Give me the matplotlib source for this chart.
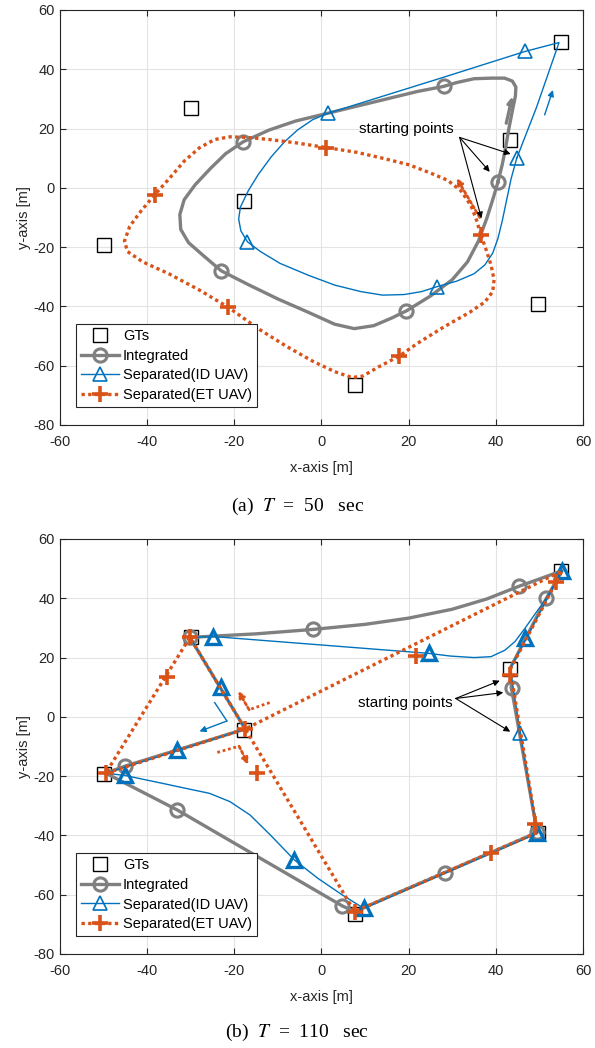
import matplotlib
matplotlib.use("Agg")
from matplotlib import pyplot as plt
from matplotlib.lines import Line2D

plt.rcParams["font.family"] = ["Liberation Sans", "DejaVu Sans"]
plt.rcParams["mathtext.fontset"] = "stix"
plt.rcParams["axes.unicode_minus"] = False

GRAY = "#808080"
BLUE = "#0072BD"
ORANGE = "#D95319"
DOTS = (0, (1.0, 1.0))

# ground terminals (same in both panels)
gt_x = [55, -30, 43.3, -17.8, -49.8, 49.7, 7.6]
gt_y = [49.2, 27, 16.2, -4.4, -19.3, -39.3, -66.6]

# ---------- (a) T = 50 sec ----------
a_int_x = [40.5, 41.5, 42.3, 43.0, 43.8, 44.5, 44.6, 43.8, 42, 39, 35, 31, 28, 22, 15, 8, 1, -6, -12, -18,
           -22, -25.5, -29, -31.5, -32.5, -32.3, -30.5, -27, -23, -17, -10, -3, 3, 7.5, 12, 16, 19.5, 25, 30,
           33.5, 36, 38, 39.5, 40.5]
a_int_y = [2, 8, 14, 20, 26, 31, 34, 36, 37, 37, 36.8, 35.5, 34.2, 32.5, 30, 27.5, 25, 22.5, 19.5, 15.5,
           11.5, 6.5, 1, -4, -9, -14, -18.5, -23, -28, -32.5, -37.5, -42, -46, -47.5, -46.5, -44, -41.5, -36.5, -31,
           -25, -18, -10, -3, 2]
a_int_mx = [40.5, 28, -18, -23, 19.5]
a_int_my = [2, 34.2, 15.5, -28, -41.5]

a_id_x = [44.8, 49.3, 54.5, 46.7, 27.8, 1.4, -2, -5.5, -8.5, -11.5, -14.5, -16.8, -18.6, -19, -18.5, -17,
          -14, -9.5, -3, 3, 9, 14, 19, 23, 26.6, 31, 35, 37.5, 39.3, 40.5, 41.5, 42.5, 43.5, 44.8]
a_id_y = [10, 27, 49, 46, 37.2, 25.1, 23, 19.5, 15.5, 10.5, 4.5, -1, -6.5, -10.5, -14.5, -18.2,
          -21.5, -25.5, -29.5, -32.8, -35, -36.2, -36, -35, -33.3, -31.5, -29, -26, -22, -17, -11, -4, 3, 10]
a_id_mx = [44.8, 46.7, 1.4, -17, 26.6]
a_id_my = [10, 46, 25.1, -18.2, -33.3]

a_et_x = [36.6, 37.8, 38.9, 39.6, 39.3, 37.5, 34, 28, 22, 17.9, 13, 9.5, 7, 3, -2, -8, -14, -21.4, -28,
          -35, -41, -44.5, -45.2, -44, -41.5, -38.3, -35, -31.5, -28, -24.5, -21, -17, -12, -6, 1, 8, 14, 20,
          25, 29, 32, 34.3, 35.6, 36.6]
a_et_y = [-16, -21, -26, -31, -35, -38.5, -42, -47, -52.5, -56.7, -60.5, -63.5, -64, -62, -58.5, -53.5, -48,
          -40.3, -34.5, -29, -25, -21.5, -18, -13, -8, -2.4, 3, 9, 13.5, 16.3, 17.2, 17, 16.3, 15.2, 13.6, 12,
          10, 7.8, 5, 2.5, -1, -6, -11, -16]
a_et_mx = [36.6, 17.9, -21.4, -38.3, 1]
a_et_my = [-16, -56.7, -40.3, -2.4, 13.6]

# ---------- (b) T = 110 sec ----------
b_int_x = [43.6, 49.5, 7.6, 4.8, -33.1, -49.5, -45, -17.5, -30.2, -15, -1.9, 10, 20, 30, 38, 45.4, 50,
           55.2, 51.6, 43.3, 43.6]
b_int_y = [9.6, -39, -65.7, -63.8, -31.4, -19, -16.6, -4.1, 26.8, 28, 29.5, 31.2, 33.3, 36.3, 39.8, 44.1,
           46.5, 49.3, 40, 16.4, 9.6]
b_int_mx = [43.6, 49.5, 28.3, 4.8, -33.1, -45, -30.2, -1.9, 45.4, 51.6]
b_int_my = [9.6, -39, -52.8, -63.8, -31.4, -16.6, 26.8, 29.5, 44.1, 40]

b_id_x = [45.6, 49.5, 9.7, 4.7, -0.8, -6.2, -11.7, -16.4, -21, -25.7, -31.2, -36.6, -42.1, -45, -49.5,
          -17.5, -30.2, -24.9, 24.7, 29.6, 35, 38.9, 42.1, 44.4, 46.7, 49.1, 51.6, 55.2, 43.3, 45.6]
b_id_y = [-5.6, -39.3, -64.6, -60, -54.5, -48.3, -39.9, -33.1, -28.6, -25.8, -24.1, -22.4, -20.7, -19.8,
          -19, -4.1, 26.8, 27.1, 21.4, 20.5, 20, 20.3, 22.5, 25.4, 29.9, 34.9, 40, 49.3, 16.4, -5.6]
b_id_mx = [55.2, 46.7, 24.7, -24.9, -23, -33.1, -45, -6.2, 9.7, 49.5]
b_id_my = [49.3, 26.5, 21.4, 27.1, 10.2, -11.2, -19.6, -48.3, -64.6, -39.3]
b_id_start = (45.6, -5.6)

b_et_x = [43.3, 55.2, -17.5, -30.2, -49.5, -17.5, 7.6, 49.5, 43.3]
b_et_y = [16, 49.3, -4.1, 26.8, -19, -4.1, -65.7, -39, 16]
b_et_mx = [43.3, 53.8, 21.6, -30.2, -35.5, -49.5, -17.5, -14.7, 7.6, 38.9, 48.9]
b_et_my = [14, 45.6, 20.6, 26.8, 13.6, -19, -4.1, -19.1, -65.7, -46, -36.3]

labels = ["GTs", "Integrated", "Separated(ID UAV)", "Separated(ET UAV)"]


def base_axes(ax):
    ax.set_xlim(-60, 60)
    ax.set_ylim(-80, 60)
    ax.set_xticks(range(-60, 61, 20))
    ax.set_yticks(range(-80, 61, 20))
    ax.grid(True, color="#e3e3e3", lw=0.8)
    ax.set_axisbelow(True)
    ax.tick_params(direction="in", top=True, right=True, length=4, labelsize=10.5, colors="#262626")
    ax.tick_params(axis="x", pad=7)
    for s in ax.spines.values():
        s.set_color("#262626")
        s.set_linewidth(0.8)
    ax.set_xlabel("x-axis [m]", fontsize=10.5, color="#262626", labelpad=9)
    ax.set_ylabel("y-axis [m]", fontsize=10.5, color="#262626", labelpad=2)


def draw_paths(ax, ix, iy, imx, imy, dx, dy, dmx, dmy, ex, ey, emx, emy, tri_w):
    ax.plot(gt_x, gt_y, ls="none", marker="s", ms=10, mfc="none", mec="black", mew=1, zorder=2)
    ax.plot(ix, iy, color=GRAY, lw=2.4, zorder=3, solid_joinstyle="round")
    ax.plot(imx, imy, ls="none", marker="o", ms=9.5, mfc="none", mec=GRAY, mew=2.2, zorder=3)
    ax.plot(dx, dy, color=BLUE, lw=1.0, zorder=4)
    ax.plot(dmx, dmy, ls="none", marker="^", ms=10, mfc="none", mec=BLUE, mew=tri_w, zorder=4)
    ax.plot(ex, ey, color=ORANGE, lw=2.4, ls=DOTS, zorder=5)
    ax.plot(emx, emy, ls="none", marker="+", ms=11, mec=ORANGE, mew=2.6, zorder=5)


def arrow(ax, tail, head, color, lw, ls="-"):
    ax.annotate("", xy=head, xytext=tail,
                arrowprops=dict(arrowstyle="-|>", color=color, lw=lw, ls=ls,
                                mutation_scale=9, shrinkA=0, shrinkB=0), zorder=6)


def legend(ax):
    h = [Line2D([], [], ls="none", marker="s", ms=10, mfc="none", mec="black", mew=1),
         Line2D([], [], color=GRAY, lw=2.4, marker="o", ms=9.5, mfc="none", mew=2.2),
         Line2D([], [], color=BLUE, lw=1.0, marker="^", ms=10, mfc="none", mew=1.2),
         Line2D([], [], color=ORANGE, lw=2.4, ls=DOTS, marker="+", ms=11, mew=2.6)]
    lg = ax.legend(h, labels, loc="lower left", bbox_to_anchor=(0.03, 0.043), borderaxespad=0,
                   fontsize=10.5, handlelength=2.6, handletextpad=0.3, labelspacing=0.38,
                   borderpad=0.35, fancybox=False, framealpha=1, edgecolor="#262626")
    lg.get_frame().set_linewidth(0.8)
    lg.set_zorder(10)


fig = plt.figure(figsize=(5.95, 10.48), dpi=100)
ax1 = fig.add_axes([0.1008, 0.5945, 0.879, 0.396])
ax2 = fig.add_axes([0.1008, 0.0897, 0.879, 0.396])

# panel (a)
base_axes(ax1)
draw_paths(ax1, a_int_x, a_int_y, a_int_mx, a_int_my, a_id_x, a_id_y, a_id_mx, a_id_my,
           a_et_x, a_et_y, a_et_mx, a_et_my, 1.2)
arrow(ax1, (42.4, 21.8), (43.8, 30.8), GRAY, 2.4)
arrow(ax1, (51.2, 24.6), (53.1, 33), BLUE, 1.0)
arrow(ax1, (36.3, -10), (31, 3.3), ORANGE, 2.0, ls=(0, (1, 1)))
ax1.text(19.5, 20, "starting points", fontsize=11, ha="center", va="center")
for hd in [(43.4, 11.4), (38.6, 5.4), (36.7, -10.3)]:
    arrow(ax1, (31.7, 17), hd, "black", 0.8)
legend(ax1)

# panel (b)
base_axes(ax2)
draw_paths(ax2, b_int_x, b_int_y, b_int_mx, b_int_my, b_id_x, b_id_y, b_id_mx, b_id_my,
           b_et_x, b_et_y, b_et_mx, b_et_my, 2.4)
ax2.plot([b_id_start[0]], [b_id_start[1]], ls="none", marker="^", ms=10, mfc="none", mec=BLUE,
         mew=1.2, zorder=4)
ax2.plot([-24.5, -21.7], [4.8, -1.4], color=BLUE, lw=1.0, zorder=6)
arrow(ax2, (-21.7, -1.4), (-28, -4.9), BLUE, 1.0)
ax2.plot([-11.9, -16.6], [4.8, 2.4], color=ORANGE, lw=2.0, ls=DOTS, zorder=6)
arrow(ax2, (-16.6, 2.4), (-19.1, 8.7), ORANGE, 2.0, ls=(0, (1, 1)))
ax2.plot([-23.9, -18.9], [-12, -9.9], color=ORANGE, lw=2.0, ls=DOTS, zorder=6)
arrow(ax2, (-18.9, -9.9), (-16.8, -16.1), ORANGE, 2.0, ls=(0, (1, 1)))
ax2.text(19.2, 4.6, "starting points", fontsize=11, ha="center", va="center")
for hd in [(40.9, 12.2), (41.7, 8.2), (43.3, -5)]:
    arrow(ax2, (30.8, 6.2), hd, "black", 0.8)
legend(ax2)

serif = ["Liberation Serif", "DejaVu Serif"]
fig.text(0.5, 0.517, r"(a)  $T$  =  50   sec", fontsize=14, ha="center", va="center", family=serif)
fig.text(0.5, 0.0145, r"(b)  $T$  =  110   sec", fontsize=14, ha="center", va="center", family=serif)

fig.savefig("out.png", dpi=100)
